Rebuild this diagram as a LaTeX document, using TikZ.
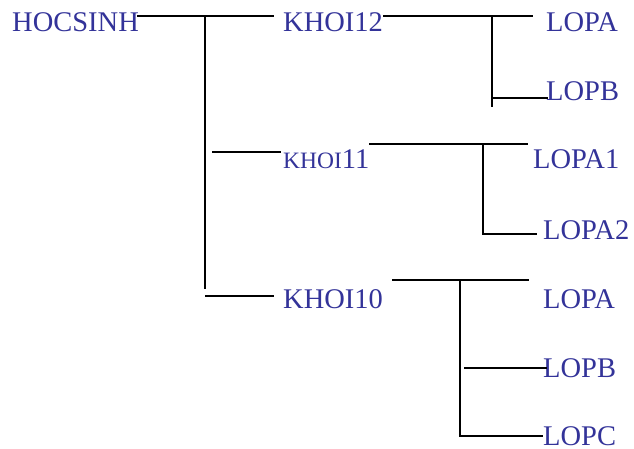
\documentclass[tikz,border=0pt]{standalone}
\usepackage{fontspec}
\setmainfont{Liberation Serif}
\definecolor{lblue}{RGB}{51,51,153}
\begin{document}
\begin{tikzpicture}[x=1pt,y=-1pt,
  lbl/.style={anchor=base west,inner sep=0pt,text=lblue,font=\fontsize{28.5}{34}\selectfont},
  ln/.style={draw=black,line width=1.8pt}]
\useasboundingbox (0,0) rectangle (634,448);
% labels
\node[lbl] (hoc) at (12,31) {HOCSINH};
\node[lbl] (k12) at (283,31) {KHOI12};
\node[lbl] (k11) at (283,168) {{\fontsize{23.5}{28}\selectfont KHOI}11};
\node[lbl] (k10) at (283,308) {KHOI10};
\node[lbl] (a12) at (546,31) {LOPA};
\node[lbl] (b12) at (546,100) {LOPB};
\node[lbl] (a111) at (533,168) {LOPA1};
\node[lbl] (a112) at (543,239) {LOPA2};
\node[lbl] (a10) at (543,308) {LOPA};
\node[lbl] (b10) at (543,377) {LOPB};
\node[lbl] (c10) at (543,445) {LOPC};
% junction coordinates
\coordinate (r0) at (137,16);
\coordinate (r1) at (274,16);
\coordinate (v0t) at (205,16);
\coordinate (v0b) at (205,289);
\coordinate (h11s) at (212,152);
\coordinate (h11e) at (281,152);
\coordinate (h10s) at (205,296);
\coordinate (h10e) at (274,296);
\coordinate (p12s) at (383,16);
\coordinate (p12e) at (533,16);
\coordinate (v12t) at (492,16);
\coordinate (v12b) at (492,107);
\coordinate (q12) at (492,98);
\coordinate (q12e) at (548,98);
\coordinate (p11s) at (369,144);
\coordinate (p11e) at (528,144);
\coordinate (v11t) at (483,144);
\coordinate (v11b) at (483,234);
\coordinate (q11e) at (537,234);
\coordinate (p10s) at (392,280);
\coordinate (p10e) at (529,280);
\coordinate (v10t) at (460,280);
\coordinate (v10b) at (460,436);
\coordinate (q10s) at (464,368);
\coordinate (q10e) at (547,368);
\coordinate (q10c) at (543,436);
% connectors
\draw[ln] (r0) -- (r1);
\draw[ln] (v0t) -- (v0b);
\draw[ln] (h11s) -- (h11e);
\draw[ln] (h10s) -- (h10e);
\draw[ln] (p12s) -- (p12e);
\draw[ln] (v12t) -- (v12b);
\draw[ln] (q12) -- (q12e);
\draw[ln] (p11s) -- (p11e);
\draw[ln] (v11t) -- (v11b) -- (q11e);
\draw[ln] (p10s) -- (p10e);
\draw[ln] (v10t) -- (v10b) -- (q10c);
\draw[ln] (q10s) -- (q10e);
\end{tikzpicture}
\end{document}
